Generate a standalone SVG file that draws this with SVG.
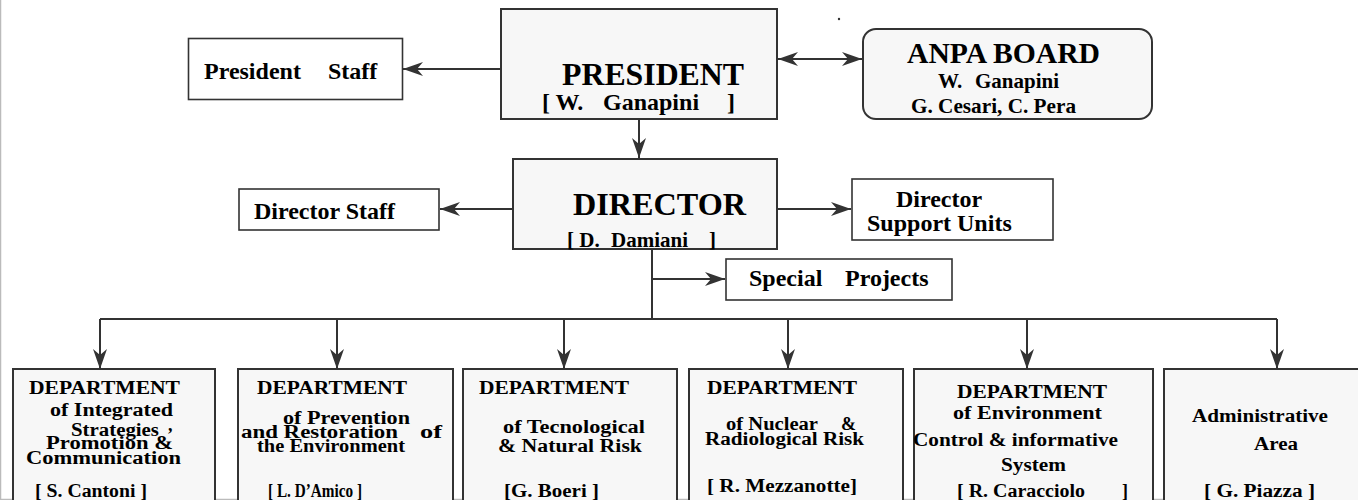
<svg xmlns="http://www.w3.org/2000/svg" width="1358" height="500" viewBox="0 0 1358 500">
  <style>
    .box { fill: #f7f7f7; stroke: #333; stroke-width: 2; }
    .plain { fill: #fff; stroke: #333; stroke-width: 1.6; }
    .t { font-family: "Liberation Serif", "DejaVu Serif", serif; font-weight: bold; fill: #000; }
    .s { font-size: 18px; }
    .conn line { stroke: #333; stroke-width: 2; fill: none; }
  </style>
  <defs>
    <marker id="arrow" markerUnits="userSpaceOnUse" markerWidth="22" markerHeight="16" refX="20" refY="7" orient="auto-start-reverse" viewBox="0 0 22 16">
      <path d="M0,0 L20,7 L0,14 L6,7 z" fill="#333"/>
    </marker>
  </defs>
  <rect width="1358" height="500" fill="#fff"/>
  <!-- frame edges -->
  <line x1="0.5" y1="0" x2="0.5" y2="500" stroke="#bbb" stroke-width="1.5"/>
  <line x1="0" y1="499.5" x2="1358" y2="499.5" stroke="#bbb" stroke-width="1.5"/>

  <!-- connectors -->
  <g class="conn">
    <line x1="501" y1="69" x2="403" y2="69" marker-end="url(#arrow)"/>
    <line x1="778" y1="59" x2="862" y2="59" marker-start="url(#arrow)" marker-end="url(#arrow)"/>
    <line x1="639" y1="119" x2="639" y2="158" marker-end="url(#arrow)"/>
    <line x1="513" y1="209" x2="440" y2="209" marker-end="url(#arrow)"/>
    <line x1="777" y1="209" x2="851" y2="209" marker-end="url(#arrow)"/>
    <line x1="652" y1="249" x2="652" y2="319"/>
    <line x1="652" y1="279" x2="725" y2="279" marker-end="url(#arrow)"/>
    <line x1="100" y1="319" x2="1277" y2="319"/>
    <line x1="100" y1="319" x2="100" y2="369" marker-end="url(#arrow)"/>
    <line x1="337" y1="319" x2="337" y2="369" marker-end="url(#arrow)"/>
    <line x1="564" y1="319" x2="564" y2="369" marker-end="url(#arrow)"/>
    <line x1="788" y1="319" x2="788" y2="369" marker-end="url(#arrow)"/>
    <line x1="1027" y1="319" x2="1027" y2="369" marker-end="url(#arrow)"/>
    <line x1="1277" y1="319" x2="1277" y2="369" marker-end="url(#arrow)"/>
  </g>

  <circle cx="839" cy="19" r="1.2" fill="#333"/>

  <g id="president-staff">
    <rect class="plain" x="188.5" y="38.5" width="214" height="61"/>
    <text class="t" font-size="24" x="204" y="79">President</text>
    <text class="t" font-size="24" x="328" y="79">Staff</text>
  </g>

  <g id="president">
    <rect class="box" x="501" y="9" width="276" height="110"/>
    <text class="t" font-size="32" x="562" y="85" textLength="182" lengthAdjust="spacingAndGlyphs">PRESIDENT</text>
    <text class="t" font-size="24" x="542" y="110">[ W.</text>
    <text class="t" font-size="24" x="603" y="110">Ganapini</text>
    <text class="t" font-size="24" x="727" y="110">]</text>
  </g>

  <g id="anpa-board">
    <rect class="box" x="863" y="29" width="289" height="90" rx="13" ry="13"/>
    <text class="t" font-size="29" x="907" y="63" textLength="193" lengthAdjust="spacingAndGlyphs">ANPA BOARD</text>
    <text class="t" font-size="21" x="938" y="88">W.</text>
    <text class="t" font-size="21" x="975" y="88">Ganapini</text>
    <text class="t" font-size="21" x="911" y="113" textLength="165" lengthAdjust="spacingAndGlyphs">G. Cesari, C. Pera</text>
  </g>

  <g id="director-staff">
    <rect class="plain" x="239" y="189" width="200" height="41"/>
    <text class="t" font-size="24" x="254" y="219">Director Staff</text>
  </g>

  <g id="director">
    <rect class="box" x="513" y="159" width="264" height="90"/>
    <text class="t" font-size="32" x="573" y="215" textLength="173" lengthAdjust="spacingAndGlyphs">DIRECTOR</text>
    <text class="t" font-size="21" x="567" y="247">[ D.</text>
    <text class="t" font-size="21" x="611" y="247">Damiani</text>
    <text class="t" font-size="21" x="709" y="247">]</text>
  </g>

  <g id="director-support-units">
    <rect class="plain" x="852" y="179" width="201" height="61"/>
    <text class="t" font-size="24" x="896" y="207">Director</text>
    <text class="t" font-size="24" x="867" y="231">Support Units</text>
  </g>

  <g id="special-projects">
    <rect class="plain" x="726" y="259" width="226" height="41"/>
    <text class="t" font-size="24" x="749" y="286">Special</text>
    <text class="t" font-size="24" x="845" y="286">Projects</text>
  </g>

  <g id="dept-integrated-strategies">
    <rect class="box" x="13" y="369" width="202" height="140"/>
    <text class="t s" x="29" y="394" textLength="151" lengthAdjust="spacingAndGlyphs">DEPARTMENT</text>
    <text class="t s" x="50" y="416" textLength="123" lengthAdjust="spacingAndGlyphs">of Integrated</text>
    <text class="t s" x="71" y="436" textLength="88" lengthAdjust="spacingAndGlyphs">Strategies</text>
    <text class="t s" x="168" y="431">,</text>
    <text class="t s" x="46" y="449" textLength="127" lengthAdjust="spacingAndGlyphs">Promotion &amp;</text>
    <text class="t s" x="26" y="464" textLength="155" lengthAdjust="spacingAndGlyphs">Communication</text>
    <text class="t s" x="35" y="497" textLength="112" lengthAdjust="spacingAndGlyphs">[ S. Cantoni ]</text>
  </g>

  <g id="dept-prevention-restoration">
    <rect class="box" x="238" y="369" width="215" height="140"/>
    <text class="t s" x="257" y="394" textLength="150" lengthAdjust="spacingAndGlyphs">DEPARTMENT</text>
    <text class="t s" x="283" y="424" textLength="127" lengthAdjust="spacingAndGlyphs">of Prevention</text>
    <text class="t s" x="241" y="438" textLength="157" lengthAdjust="spacingAndGlyphs">and Restoration</text>
    <text class="t s" x="420" y="438" textLength="22" lengthAdjust="spacingAndGlyphs">of</text>
    <text class="t s" x="257" y="452" textLength="148" lengthAdjust="spacingAndGlyphs">the Environment</text>
    <text class="t s" x="268" y="497" textLength="94" lengthAdjust="spacingAndGlyphs">[ L. D’Amico ]</text>
  </g>

  <g id="dept-technological-natural-risk">
    <rect class="box" x="463" y="369" width="214" height="140"/>
    <text class="t s" x="479" y="394" textLength="150" lengthAdjust="spacingAndGlyphs">DEPARTMENT</text>
    <text class="t s" x="503" y="433" textLength="142" lengthAdjust="spacingAndGlyphs">of Tecnological</text>
    <text class="t s" x="498" y="452" textLength="144" lengthAdjust="spacingAndGlyphs">&amp; Natural Risk</text>
    <text class="t s" x="504" y="497" textLength="95" lengthAdjust="spacingAndGlyphs">[G. Boeri ]</text>
  </g>

  <g id="dept-nuclear-radiological-risk">
    <rect class="box" x="689" y="369" width="214" height="140"/>
    <text class="t s" x="707" y="394" textLength="150" lengthAdjust="spacingAndGlyphs">DEPARTMENT</text>
    <text class="t s" x="726" y="430" textLength="92" lengthAdjust="spacingAndGlyphs">of Nuclear</text>
    <text class="t s" x="841" y="430">&amp;</text>
    <text class="t s" x="705" y="445" textLength="159" lengthAdjust="spacingAndGlyphs">Radiological Risk</text>
    <text class="t s" x="707" y="492" textLength="150" lengthAdjust="spacingAndGlyphs">[ R. Mezzanotte]</text>
  </g>

  <g id="dept-environment-control">
    <rect class="box" x="914" y="369" width="239" height="140"/>
    <text class="t s" x="957" y="398" textLength="150" lengthAdjust="spacingAndGlyphs">DEPARTMENT</text>
    <text class="t s" x="953" y="419" textLength="149" lengthAdjust="spacingAndGlyphs">of Environment</text>
    <text class="t s" x="913" y="446" textLength="205" lengthAdjust="spacingAndGlyphs">Control &amp; informative</text>
    <text class="t s" x="1001" y="471" textLength="65" lengthAdjust="spacingAndGlyphs">System</text>
    <text class="t s" x="957" y="497" textLength="128" lengthAdjust="spacingAndGlyphs">[ R.  Caracciolo</text>
    <text class="t s" x="1122" y="497">]</text>
  </g>

  <g id="administrative-area">
    <rect class="box" x="1164" y="369" width="200" height="140"/>
    <text class="t s" x="1192" y="422" textLength="136" lengthAdjust="spacingAndGlyphs">Administrative</text>
    <text class="t s" x="1254" y="450" textLength="44" lengthAdjust="spacingAndGlyphs">Area</text>
    <text class="t s" x="1204" y="497" textLength="111" lengthAdjust="spacingAndGlyphs">[ G. Piazza ]</text>
  </g>
</svg>
